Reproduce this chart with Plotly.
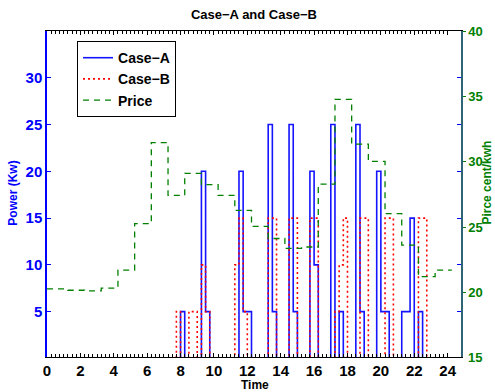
import plotly.graph_objects as go

# ---- data ----
slot_hours = 0.25  # quarter-hour resolution of the power schedules
case_a = [
    0, 0, 0, 0, 0, 0, 0, 0,
    0, 0, 0, 0, 0, 0, 0, 0,
    0, 0, 0, 0, 0, 0, 0, 0,
    0, 0, 0, 0, 0, 0, 0, 0,
    5, 0, 0, 0, 0, 20, 5, 0,
    0, 0, 0, 0, 0, 0, 20, 5,
    5, 0, 0, 0, 0, 25, 5, 0,
    0, 0, 25, 5, 0, 0, 0, 20,
    10, 0, 0, 0, 25, 0, 5, 0,
    0, 0, 25, 5, 0, 0, 0, 20,
    5, 5, 0, 0, 0, 5, 5, 15,
    0, 5, 0, 0, 0, 0, 0, 0,
]
case_b = [
    0, 0, 0, 0, 0, 0, 0, 0,
    0, 0, 0, 0, 0, 0, 0, 0,
    0, 0, 0, 0, 0, 0, 0, 0,
    0, 0, 0, 0, 0, 0, 0, 5,
    0, 0, 5, 5, 0, 10, 5, 0,
    0, 0, 0, 0, 0, 10, 15, 5,
    0, 0, 0, 0, 0, 15, 15, 0,
    0, 0, 15, 15, 0, 0, 0, 15,
    15, 0, 0, 0, 0, 5, 10, 15,
    0, 0, 0, 15, 15, 0, 0, 0,
    0, 15, 15, 0, 0, 0, 0, 0,
    0, 15, 15, 0, 0, 0, 0, 0,
]
price = [20.3, 20.2, 20.15, 20.36, 21.74, 25.29, 31.48, 27.44, 29.13, 28.27,
         27.44, 26.3, 25.08, 24.15, 23.4, 23.5, 28.3, 34.77, 31.36, 30.04,
         26.05, 23.64, 21.24, 21.74]
price_shift = 0.25  # hourly price steps start a quarter past each hour
x_ticks = list(range(0, 25, 2))
power_ticks = [5, 10, 15, 20, 25, 30]
price_ticks = [20, 25, 30, 35, 40]
price_bottom_label = "15"

# ---- derived step coordinates ----
t_pow = [i * slot_hours for i in range(len(case_a) + 1)]
a_y = case_a + [case_a[-1]]
b_y = case_b + [case_b[-1]]
t_price = [0] + [h + price_shift for h in range(1, len(price))] + [len(price) + price_shift]
p_y = price + [price[-1]]
quarters = [i * slot_hours for i in range(0, 97)]

BOLD = "Liberation Sans"
GREEN = "rgb(0,128,0)"
fig = go.Figure()
fig.add_trace(go.Scatter(x=t_pow, y=a_y, mode="lines", line_shape="hv",
                         name="Case\u2212A", line=dict(color="rgb(20,20,255)", width=1.6)))
fig.add_trace(go.Scatter(x=t_pow, y=b_y, mode="lines", line_shape="hv",
                         name="Case\u2212B", line=dict(color="red", width=1.6, dash="2px,3px")))
fig.add_trace(go.Scatter(x=t_price, y=p_y, mode="lines", line_shape="hv", yaxis="y2",
                         name="Price", line=dict(color=GREEN, width=1.3, dash="6px,5px")))

fig.update_layout(
    width=495, height=392,
    margin=dict(l=47, r=34, t=31, b=35),
    plot_bgcolor="white", paper_bgcolor="white",
    title=dict(text="Case\u2212A and Case\u2212B", x=0.513, xanchor="center",
               y=1 - 14 / 392, yanchor="middle",
               font=dict(family=BOLD, size=13, color="black", weight="bold")),
    xaxis=dict(range=[0, 24.8], tickmode="array", tickvals=x_ticks,
               ticks="inside", ticklen=4, tickcolor="black", tickwidth=1,
               showline=True, linecolor="black", linewidth=1.2, mirror="ticks",
               showgrid=False, zeroline=False,
               minor=dict(tickmode="array", tickvals=quarters, ticks="inside",
                          ticklen=3, tickcolor="black", tickwidth=1),
               tickfont=dict(family=BOLD, size=15, color="black", weight="bold")),
    yaxis=dict(range=[0.15, 35], tickmode="array", tickvals=power_ticks,
               ticks="inside", ticklen=4, tickcolor="blue", tickwidth=1,
               showline=True, linecolor="blue", linewidth=1.5, mirror="ticks",
               showgrid=False, zeroline=False,
               tickfont=dict(family=BOLD, size=15, color="blue", weight="bold")),
    yaxis2=dict(range=[15.1, 40], overlaying="y", side="right", tickmode="array",
                tickvals=price_ticks, ticks="outside", ticklen=3,
                tickcolor=GREEN, tickwidth=1,
                showline=True, linecolor="rgb(45,100,120)", linewidth=1.5,
                showgrid=False, zeroline=False,
                tickfont=dict(family=BOLD, size=13, color=GREEN, weight="bold")),
    legend=dict(x=0.0725, y=0.969, xanchor="left", yanchor="top",
                bgcolor="white", bordercolor="black", borderwidth=1,
                font=dict(family=BOLD, size=14, color="black", weight="bold")),
    annotations=[
        dict(text="Time", x=0.5024, y=-0.086, xref="paper", yref="paper",
             showarrow=False, xanchor="center", yanchor="middle",
             font=dict(family=BOLD, size=12, color="black", weight="bold")),
        dict(text="Power (Kw)", x=-0.0814, y=0.502, xref="paper", yref="paper",
             showarrow=False, textangle=-90, xanchor="center", yanchor="middle",
             font=dict(family=BOLD, size=12, color="blue", weight="bold")),
        dict(text="Pirce cent/kwh", x=1.062, y=0.534, xref="paper", yref="paper",
             showarrow=False, textangle=-90, xanchor="center", yanchor="middle",
             font=dict(family=BOLD, size=12, color=GREEN, weight="bold")),
        dict(text=price_bottom_label, x=1.012, y=0.0, xref="paper", yref="paper",
             showarrow=False, xanchor="left", yanchor="middle",
             font=dict(family=BOLD, size=13, color=GREEN, weight="bold")),
    ],
)

fig.write_html("out.html")
